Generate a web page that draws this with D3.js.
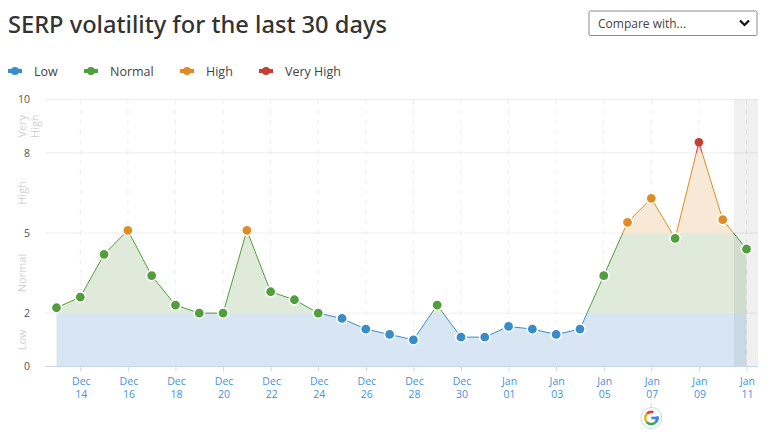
<!DOCTYPE html>
<html><head><meta charset="utf-8">
<script src="https://cdn.jsdelivr.net/npm/d3@7"></script>
<style>
html,body{margin:0;padding:0;background:#fff;overflow:hidden}
svg{display:block}
text{font-family:"Open Sans",sans-serif}
</style></head><body><svg id="c" width="772" height="440"></svg>
<script>
const days=["Dec 13","Dec 14","Dec 15","Dec 16","Dec 17","Dec 18","Dec 19","Dec 20","Dec 21","Dec 22","Dec 23","Dec 24","Dec 25","Dec 26","Dec 27","Dec 28","Dec 29","Dec 30","Dec 31","Jan 01","Jan 02","Jan 03","Jan 04","Jan 05","Jan 06","Jan 07","Jan 08","Jan 09","Jan 10","Jan 11"];
const scores=[2.2,2.6,4.2,5.1,3.4,2.3,2.0,2.0,5.1,2.8,2.5,2.0,1.8,1.4,1.2,1.0,2.3,1.1,1.1,1.5,1.4,1.2,1.4,3.4,5.4,6.3,4.8,8.4,5.5,4.4];
const tickDays=["Dec 14","Dec 16","Dec 18","Dec 20","Dec 22","Dec 24","Dec 26","Dec 28","Dec 30","Jan 01","Jan 03","Jan 05","Jan 07","Jan 09","Jan 11"];
const yTicks=[0,2,5,8,10];
const bandNames=["Low","Normal","High","Very High"];
const bandLimits=[0,2,5,8,10];
const bandColors=["#3a8cc9","#529e3c","#de8d25","#c43f33"];
const bandFills=["#d7e6f2","#dfeadb","#f8e8d6","#f3d9d4"];
const googleUpdateDay="Jan 07";
const partialDay="Jan 11";

const svg=d3.select("#c");
const L=45,R=758,T=99.5,B=366.5;
const x=d3.scalePoint().domain(days).range([56.5,746.5]);
const y=d3.scaleLinear().domain([0,10]).range([B,T]);
const band=v=>v<2?0:v<=5?1:v<=8?2:3;

svg.append("text").attr("x",8).attr("y",33).attr("font-size",23.65).attr("font-weight",500)
  .attr("fill","#333").style("font-family","'Noto Sans',sans-serif").text("SERP volatility for the last 30 days");

// dropdown
const dd=svg.append("g");
dd.append("rect").attr("x",589).attr("y",11).attr("width",168).attr("height",24.5).attr("rx",1.5)
  .attr("fill","#fff").attr("stroke","#8a8a8a");
dd.append("text").attr("x",598).attr("y",27.5).attr("font-size",12).attr("fill","#444").text("Compare with...");
dd.append("path").attr("d","M740 20.5l4.5 4.5 4.5-4.5").attr("fill","none").attr("stroke","#111").attr("stroke-width",2.2);

// legend
const lx=[8,84,180,259];
const lg=svg.append("g").selectAll("g").data(bandNames).join("g").attr("transform",(d,i)=>`translate(${lx[i]},71)`);
lg.append("line").attr("x1",0).attr("x2",14).attr("stroke",(d,i)=>bandColors[i]).attr("stroke-width",4);
lg.append("circle").attr("cx",7).attr("r",4).attr("fill",(d,i)=>bandColors[i]);
lg.append("text").attr("x",26).attr("y",4.5).attr("font-size",12.5).attr("fill","#444").text(d=>d);

// grid
svg.append("g").selectAll("line").data(yTicks.filter(d=>d>0)).join("line")
  .attr("x1",L).attr("x2",R).attr("y1",d=>y(d)).attr("y2",d=>y(d)).attr("stroke","#ededed");
svg.append("g").selectAll("line").data(tickDays).join("line")
  .attr("x1",d=>x(d)).attr("x2",d=>x(d)).attr("y1",T).attr("y2",B)
  .attr("stroke","#eeeeee").attr("stroke-dasharray","5 5");

// clips per band
const defs=svg.append("defs");
bandNames.forEach((n,i)=>{
  defs.append("clipPath").attr("id","b"+i).append("rect")
    .attr("x",0).attr("width",772).attr("y",y(bandLimits[i+1])).attr("height",y(bandLimits[i])-y(bandLimits[i+1]));
});
const area=d3.area().x((d,i)=>x(days[i])).y0(y(0)).y1(d=>y(d));
const line=d3.line().x((d,i)=>x(days[i])).y(d=>y(d));
bandNames.forEach((n,i)=>{
  svg.append("path").datum(scores).attr("d",area).attr("fill",bandFills[i]).attr("clip-path",`url(#b${i})`);
});
bandNames.forEach((n,i)=>{
  svg.append("path").datum(scores).attr("d",line).attr("fill","none").attr("stroke",bandColors[i]).attr("stroke-width",1).attr("clip-path",`url(#b${i})`);
});

// partial-data shading
svg.append("rect").attr("x",x(partialDay)-12.5).attr("y",T).attr("width",R-x(partialDay)+12.5).attr("height",B-T)
  .attr("fill","#000").attr("fill-opacity",0.06);

// points
svg.append("g").selectAll("circle").data(scores).join("circle")
  .attr("cx",(d,i)=>x(days[i])).attr("cy",d=>y(d)).attr("r",d=>band(d)===3?4.3:5.2)
  .attr("fill",d=>bandColors[band(d)]).attr("stroke","#fff").attr("stroke-width",1.6)
  .attr("stroke-opacity",d=>band(d)===3?0:1);

// x axis
const xa=svg.append("g").attr("transform",`translate(0,${B})`)
  .call(d3.axisBottom(x).tickValues(tickDays).tickSize(5).tickFormat(""));
xa.select(".domain").attr("stroke","#c8d8ea").attr("d",`M${L},0H${R}`);
xa.selectAll(".tick line").attr("stroke","#c8d8ea");
xa.selectAll(".tick").each(function(d){
  const [m,n]=d.split(" ");
  const t=d3.select(this).append("text").attr("text-anchor","middle").attr("font-size",10.5).attr("fill","#3f93e0")
    .style("font-family","'Open Sans',sans-serif");
  t.append("tspan").attr("x",0.5).attr("y",18).text(m);
  t.append("tspan").attr("x",0.5).attr("y",31).text(n);
});

// y axis
const ya=svg.append("g").attr("transform",`translate(${L},0)`)
  .call(d3.axisLeft(y).tickValues(yTicks).tickSize(0).tickPadding(15).tickFormat(d3.format("d")));
ya.select(".domain").remove();
ya.selectAll("text").attr("font-size",10.5).attr("fill","#555").style("font-family","'Open Sans',sans-serif");

// band labels
const labelLines=[["Low"],["Normal"],["High"],["Very","High"]];
labelLines.forEach((ls,i)=>{
  const cy=y((bandLimits[i]+bandLimits[i+1])/2);
  ls.forEach((s,j)=>{
    svg.append("text").attr("transform",`translate(${26+j*13},${cy}) rotate(-90)`)
      .attr("text-anchor","middle").attr("font-size",11).attr("fill","#d2d2d2").text(s);
  });
});

// google marker
const gx=x(googleUpdateDay),gy=418;
svg.append("line").attr("x1",gx).attr("x2",gx).attr("y1",403).attr("y2",408).attr("stroke","#c8d8ea");
svg.append("circle").attr("cx",gx).attr("cy",gy).attr("r",10.5).attr("fill","#fff").attr("stroke","#c8dcec");
const arc=d3.arc().innerRadius(4.7).outerRadius(7.4);
[["#d9482f",-0.8,0.35],["#e8b020",-2.3,-0.8],["#3fa35a",-3.9,-2.3],["#3f82ed",-5.0,-3.9]].forEach(([c,a,b])=>{
  svg.append("path").attr("transform",`translate(${gx},${gy})`).attr("d",arc({startAngle:a,endAngle:b})).attr("fill",c);
});
svg.append("rect").attr("x",gx).attr("y",gy-1.3).attr("width",7.4).attr("height",2.6).attr("fill","#3f82ed");
</script></body></html>
